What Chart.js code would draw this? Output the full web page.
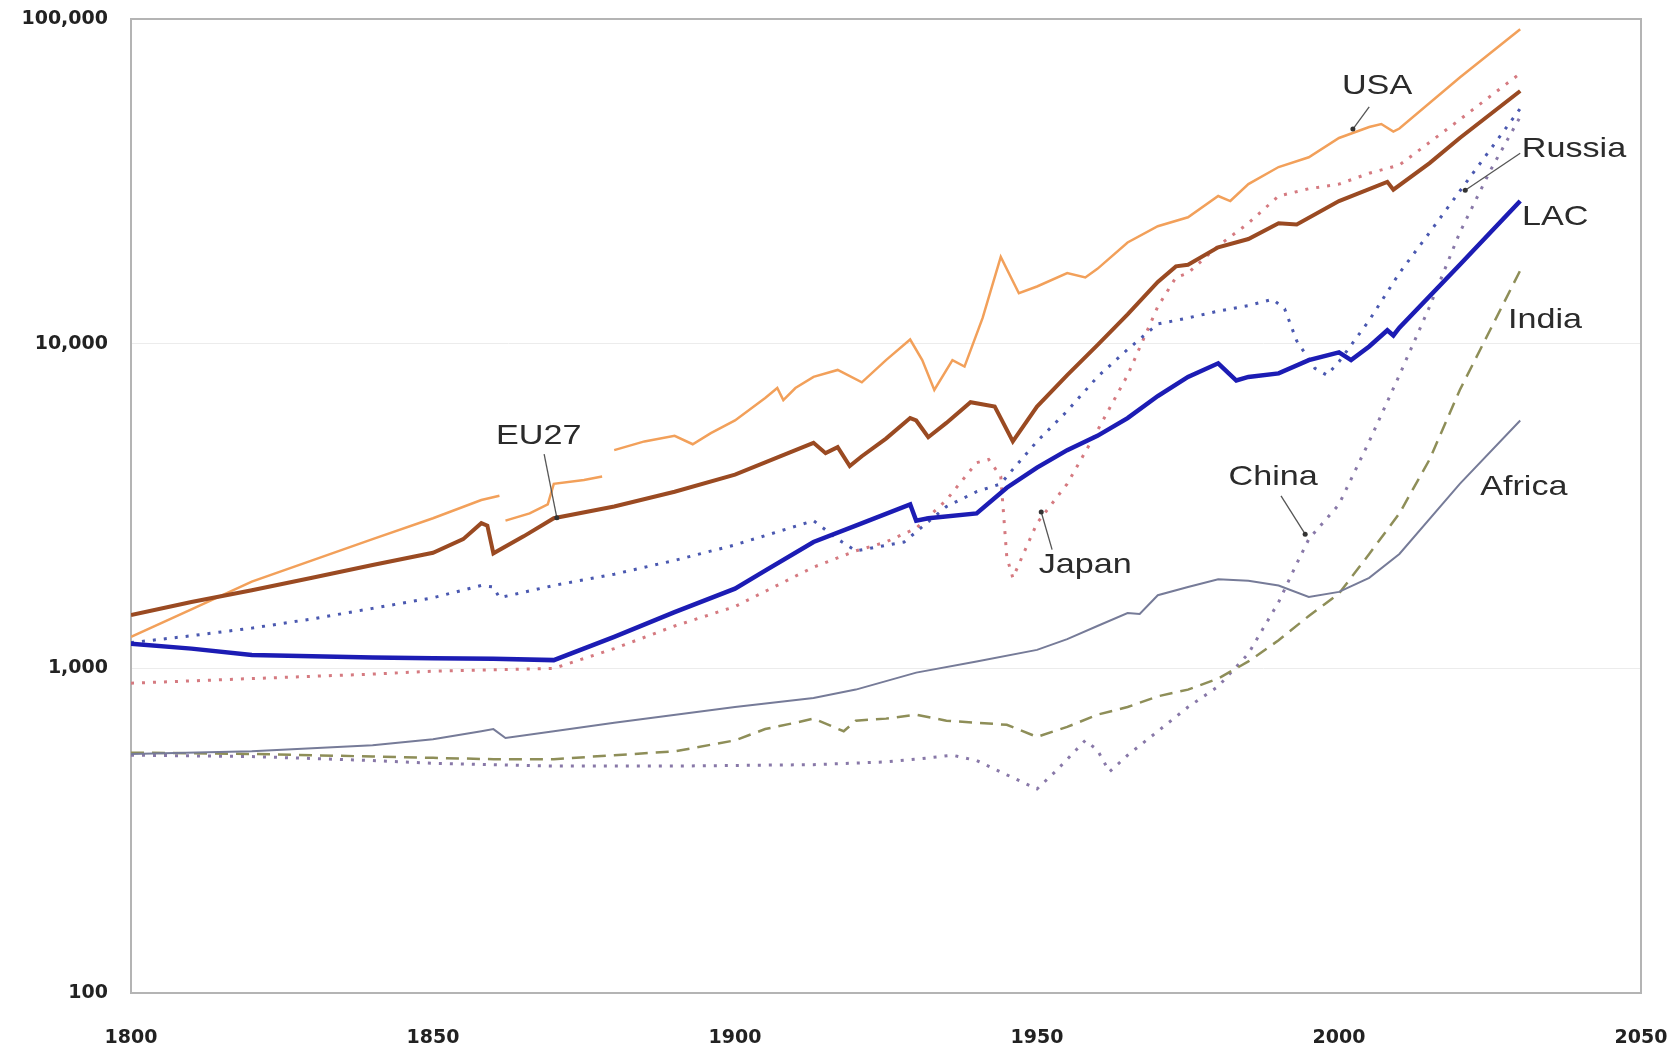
<!DOCTYPE html>
<html>
<head>
<meta charset="utf-8">
<script src="https://cdn.jsdelivr.net/npm/chart.js@4.4.0/dist/chart.umd.min.js"></script>
<style>
  html, body { margin: 0; padding: 0; background: #fff; }
</style>
</head>
<body>
<canvas id="chart" width="1674" height="1054"></canvas>
<script>
// GDP per capita, log scale, 1800-2030
const usaYears = [1800,1810,1820,1830,1840,1850,1858,1861,1861.5,1862,1866,1869,1870,1875,1878,1879,1880,1885,1890,1893,1896,1900,1905,1907,1908,1910,1913,1917,1921,1925,1929,1931,1933,1936,1938,1941,1944,1947,1950,1955,1958,1960,1965,1970,1975,1980,1982,1985,1990,1995,2000,2005,2007,2009,2010,2020,2030];
const usaValues = [1250,1520,1850,2150,2500,2900,3300,3400,null,2850,3000,3200,3700,3800,3900,null,4700,5000,5200,4900,5300,5800,6800,7300,6700,7300,7900,8300,7600,8900,10300,8900,7200,8900,8500,12000,18500,14300,15000,16500,16000,17000,20500,23000,24500,28500,27500,31000,35000,37500,43000,46500,47500,45000,46000,66000,93000];

const euYears = [1800,1810,1820,1830,1840,1850,1855,1858,1859,1860,1865,1870,1880,1890,1900,1913,1915,1917,1919,1921,1925,1929,1930,1932,1935,1939,1943,1944,1946,1950,1955,1960,1965,1970,1973,1975,1980,1985,1990,1993,2000,2008,2009,2015,2020,2030];
const euValues = [1460,1600,1740,1900,2080,2270,2500,2800,2750,2260,2550,2900,3150,3500,3950,4950,4600,4800,4200,4500,5100,5900,5800,5150,5700,6600,6400,5900,5000,6400,8000,9900,12300,15500,17300,17500,19800,21000,23500,23300,27500,31500,29800,36000,43000,60000];

const lacYears = [1800,1810,1820,1830,1840,1850,1860,1870,1880,1890,1900,1905,1913,1920,1929,1930,1932,1940,1945,1950,1955,1960,1965,1970,1975,1980,1983,1985,1990,1995,2000,2002,2005,2008,2009,2010,2020,2030];
const lacValues = [1190,1150,1100,1090,1080,1075,1070,1060,1250,1490,1760,2000,2450,2750,3200,2850,2900,3000,3600,4150,4700,5200,5900,6900,7900,8700,7700,7900,8100,8900,9400,8900,9800,11000,10600,11200,17500,27500];

const afrYears = [1800,1820,1840,1850,1858,1860,1862,1870,1880,1900,1913,1920,1930,1940,1950,1955,1960,1965,1967,1970,1975,1980,1985,1990,1995,2000,2005,2010,2020,2030];
const afrValues = [545,555,580,605,640,650,610,640,680,760,810,860,970,1050,1140,1230,1350,1480,1470,1680,1780,1880,1860,1800,1660,1720,1900,2250,3700,5800];

const indYears = [1800,1820,1840,1850,1860,1870,1880,1890,1900,1905,1910,1913,1918,1920,1925,1930,1935,1940,1945,1950,1955,1960,1965,1970,1975,1980,1985,1990,1995,2000,2005,2010,2015,2020,2025,2030];
const indValues = [550,545,535,530,525,525,540,555,600,650,680,700,640,690,700,720,690,680,670,615,660,720,760,820,860,930,1050,1220,1450,1700,2250,3000,4400,7200,11000,16800];

const japYears = [1800,1820,1840,1850,1870,1880,1890,1900,1913,1920,1925,1930,1935,1940,1942,1944,1945,1946,1950,1955,1960,1965,1970,1973,1975,1980,1985,1990,1995,2000,2005,2010,2020,2030];
const japValues = [900,930,960,980,1000,1150,1350,1550,2050,2300,2450,2700,3300,4300,4400,3900,2200,1900,2800,3700,5400,8000,13000,16000,16500,20000,23500,28500,30000,31000,33500,35500,49000,68000];

const rusYears = [1800,1810,1820,1830,1840,1850,1858,1860,1861,1870,1880,1890,1900,1913,1917,1920,1928,1935,1940,1944,1946,1950,1955,1960,1965,1970,1975,1980,1985,1989,1991,1993,1996,1998,2000,2005,2010,2015,2020,2025,2030];
const rusValues = [1200,1260,1330,1420,1530,1650,1800,1780,1650,1800,1950,2150,2400,2850,2500,2300,2450,3150,3500,3700,4100,5000,6200,7900,9600,11500,12000,12600,13100,13700,12800,10200,8400,8000,8800,11800,16500,22000,29500,39500,53000];

const chnYears = [1800,1820,1840,1850,1870,1890,1913,1925,1930,1936,1940,1945,1950,1953,1958,1960,1962,1965,1970,1975,1980,1985,1990,1993,1995,2000,2005,2010,2015,2020,2025,2030];
const chnValues = [540,535,520,510,500,500,505,515,525,540,520,470,425,480,600,560,480,540,640,760,880,1110,1600,2100,2500,3200,5000,8000,13000,22000,34000,50000];

const xTicks = [1800, 1850, 1900, 1950, 2000, 2050];
const yTicks = [100, 1000, 10000, 100000];

// series name labels drawn on the plot, in data coordinates
const calloutText = ['USA', 'Russia', 'LAC', 'India', 'Africa', 'China', 'Japan', 'EU27'];
const calloutYear = [2006.3, 2038.9, 2035.8, 2034.1, 2030.6, 1989.1, 1958.0, 1867.5];
const calloutValue = [62200, 39800, 24500, 11800, 3600, 3890, 2070, 5200];
// leader lines: from near the label to the series
const leaderFrom = [[2005.0, 53600], [2030.0, 38600], [1990.4, 3400], [1952.5, 2320], [1868.4, 4570]];
const leaderTo = [[2002.3, 45800], [2020.9, 29700], [1994.4, 2590], [1950.7, 3030], [1870.5, 2910]];

function toPoints(years, values) {
    return years.map((yr, i) => ({ x: yr, y: values[i] }));
}

const framePlugin = {
    id: 'frame',
    beforeDatasetsDraw(chart) {
        const { ctx, chartArea: a } = chart;
        ctx.save();
        ctx.strokeStyle = '#b4b4b4';
        ctx.lineWidth = 2;
        ctx.strokeRect(a.left, a.top, a.right - a.left, a.bottom - a.top);
        ctx.restore();
    }
};

const calloutPlugin = {
    id: 'callouts',
    afterDatasetsDraw(chart) {
        const { ctx } = chart;
        const xs = chart.scales.x;
        const ys = chart.scales.y;
        ctx.save();
        ctx.strokeStyle = '#555';
        ctx.fillStyle = '#333';
        ctx.lineWidth = 1.3;
        leaderFrom.forEach((p, i) => {
            const x1 = xs.getPixelForValue(p[0]), y1 = ys.getPixelForValue(p[1]);
            const x2 = xs.getPixelForValue(leaderTo[i][0]), y2 = ys.getPixelForValue(leaderTo[i][1]);
            ctx.beginPath();
            ctx.moveTo(x1, y1);
            ctx.lineTo(x2, y2);
            ctx.stroke();
            ctx.beginPath();
            ctx.arc(x2, y2, 2.5, 0, Math.PI * 2);
            ctx.fill();
        });
        ctx.font = '28px "Liberation Sans", Arial, sans-serif';
        ctx.textAlign = 'center';
        ctx.textBaseline = 'middle';
        ctx.fillStyle = '#2b2b2b';
        calloutText.forEach((t, i) => {
            const x = xs.getPixelForValue(calloutYear[i]);
            const y = ys.getPixelForValue(calloutValue[i]);
            ctx.save();
            ctx.translate(x, y);
            ctx.scale(1.22, 1);
            ctx.fillText(t, 0, 0);
            ctx.restore();
        });
        ctx.restore();
    }
};

const ctx = document.getElementById('chart').getContext('2d');

const chart = new Chart(ctx, {
    type: 'line',
    data: {
        datasets: [
            { label: 'LAC', data: toPoints(lacYears, lacValues), borderColor: '#1c1cb4', borderWidth: 4.5, order: 1 },
            { label: 'EU27', data: toPoints(euYears, euValues), borderColor: '#9a4a22', borderWidth: 4, order: 2 },
            { label: 'USA', data: toPoints(usaYears, usaValues), borderColor: '#f2a05a', borderWidth: 2.5, order: 3 },
            { label: 'Africa', data: toPoints(afrYears, afrValues), borderColor: '#767b98', borderWidth: 2, order: 4 },
            { label: 'India', data: toPoints(indYears, indValues), borderColor: '#8e8e58', borderWidth: 2.5, borderDash: [13, 8], order: 5 },
            { label: 'Russia', data: toPoints(rusYears, rusValues), borderColor: '#4a58b0', borderWidth: 3, borderDash: [3, 8], order: 6 },
            { label: 'Japan', data: toPoints(japYears, japValues), borderColor: '#d57a80', borderWidth: 3, borderDash: [3, 8], order: 7 },
            { label: 'China', data: toPoints(chnYears, chnValues), borderColor: '#8878a8', borderWidth: 3, borderDash: [3, 8], order: 8 }
        ]
    },
    options: {
        responsive: false,
        animation: false,
        parsing: false,
        elements: {
            point: { radius: 0 },
            line: { tension: 0, fill: false }
        },
        layout: { padding: { top: 19, right: 33, bottom: 0, left: 0 } },
        plugins: {
            legend: { display: false },
            tooltip: { enabled: false }
        },
        scales: {
            x: {
                type: 'linear',
                min: 1800,
                max: 2050,
                afterBuildTicks: axis => { axis.ticks = xTicks.map(v => ({ value: v })); },
                afterFit: scale => {
                    scale.height = 61;
                    scale.paddingLeft = 0;
                    scale.paddingRight = 0;
                },
                grid: { display: false, drawTicks: false },
                border: { display: false },
                ticks: {
                    padding: 34,
                    color: '#222',
                    font: { family: '"DejaVu Sans"', size: 19, weight: 'bold' },
                    maxRotation: 0,
                    callback: v => String(v)
                }
            },
            y: {
                type: 'logarithmic',
                min: 100,
                max: 100000,
                afterBuildTicks: axis => { axis.ticks = yTicks.map(v => ({ value: v })); },
                afterFit: scale => {
                    scale.width = 131;
                    scale.paddingTop = 0;
                    scale.paddingBottom = 0;
                },
                grid: { color: '#ececec', lineWidth: 1, drawTicks: false },
                border: { display: false },
                ticks: {
                    padding: 23,
                    color: '#222',
                    font: { family: '"DejaVu Sans"', size: 19, weight: 'bold' },
                    callback: v => Number(v).toLocaleString('en-US')
                }
            }
        }
    },
    plugins: [framePlugin, calloutPlugin]
});
</script>
</body>
</html>
